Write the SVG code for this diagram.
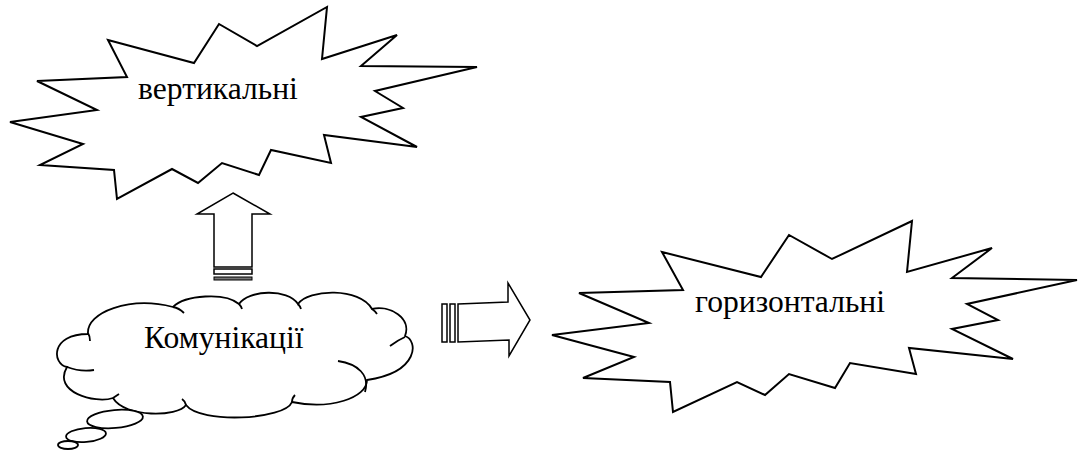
<svg xmlns="http://www.w3.org/2000/svg" width="1079" height="452" viewBox="0 0 1079 452">
<style>
.shape{fill:#fff;stroke:#000;stroke-width:2;stroke-linejoin:miter}
.cloud{fill:#fff;stroke:#000;stroke-width:1.8}
.tick{fill:none;stroke:#000;stroke-width:1.8}
.arrow{fill:#fff;stroke:#000;stroke-width:1.5}
</style>
<rect width="1079" height="452" fill="#fff"/>
<g id="connectors">
  <g id="arrow-up">
    <polygon class="arrow" points="233,193 270,214 252,214 252,267 214,267 214,214 197,214"/>
    <rect class="arrow" x="214" y="269" width="38" height="5"/>
    <rect x="214" y="277" width="38" height="3" fill="#777" stroke="#000" stroke-width="1"/>
  </g>
  <g id="arrow-right">
    <polygon class="arrow" points="458,304 508,302 508,283 530,320 509,356 509,340 458,342"/>
    <rect class="arrow" x="442" y="304" width="5" height="38"/>
    <rect class="arrow" x="450" y="304" width="5" height="38"/>
  </g>
</g>
<g id="node-vertical">
  <polygon class="shape" points="108,40 194,63 219,24 257,46 327,7 322,59 397,35 361,66 477,67 375,91 403,108 361,117 417,147 324,135 331,163 271,150 259,175 222,163 198,183 172,169 117,199 114,170 40,165 83,144 10,122 97,110 37,81 127,77"/>
  <text x="138" y="99" font-family="Liberation Serif, DejaVu Serif, serif" font-size="31.6" fill="#000">вертикальні</text>
</g>
<g id="node-horizontal">
  <polygon class="shape" points="662,252 761,277 789,235 832,259 912,221 907,272 992,248 952,278 1077,280 967,304 998,320 952,329 1013,359 909,348 916,374 850,363 835,388 789,374 765,395 737,382 673,412 670,382 583,378 634,357 552,335 649,323 579,293 683,290"/>
  <text x="695" y="312" font-family="Liberation Serif, DejaVu Serif, serif" font-size="31.6" fill="#000">горизонтальні</text>
</g>
<g id="node-communications">
  <path class="cloud" d="M88,334 C86,312 130,296 173,307 C185,295 225,292 239,304 C248,290 288,288 298,304 C308,289 360,287 372,309 C390,305 412,318 405,336 C418,340 420,372 367,380 C367,398 330,410 292,402 C285,420 200,424 186,405 C178,417 125,418 113,398 C95,404 52,392 67,367 C52,364 50,334 88,334 Z"/>
  <path class="tick" d="M88,333 Q90,336 90,341 M173,307 Q179,308 184,313 M239,304 Q241,306 242,309 M298,304 Q300,306 301,309 M372,309 Q375,311 377,314 M405,337 Q398,340 390,346 M338,361 C358,364 370,375 365,392 M292,402 Q292,398 295,395 M186,405 Q185,401 182,399 M113,398 Q116,396 119,394 M67,367 Q80,372 94,370"/>
  <ellipse class="cloud" cx="115" cy="419" rx="28" ry="9" transform="rotate(-5 115 419)"/>
  <ellipse class="cloud" cx="86" cy="435" rx="20" ry="7" transform="rotate(-5 86 435)"/>
  <ellipse class="cloud" cx="68" cy="445" rx="10" ry="4"/>
  <text x="144" y="348" font-family="Liberation Serif, DejaVu Serif, serif" font-size="31.6" fill="#000">Комунікації</text>
</g>
</svg>
